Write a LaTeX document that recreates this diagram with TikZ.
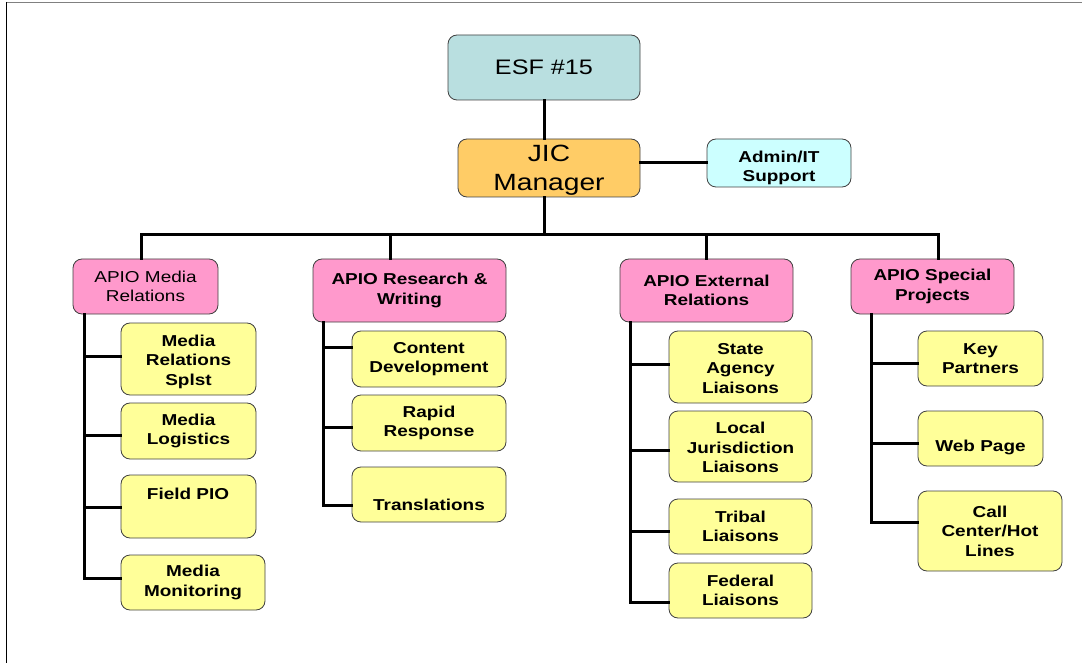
\documentclass[tikz,border=0pt]{standalone}
\usepackage{fontspec}
\setmainfont[FakeStretch=1.2]{Liberation Sans}
\newcommand{\dn}[2]{\raisebox{-#1}[\height][\depth]{\begin{tabular}{@{}c@{}}#2\end{tabular}}}
\begin{document}
\begin{tikzpicture}[x=1pt,y=-1pt,
  box/.style={draw=black!75, line width=0.8pt, rounded corners=9pt, align=center, inner sep=0pt},
  sub/.style={box, fill=yellowbox, font=\fontsize{15.8}{19.5}\selectfont\bfseries},
  apio/.style={box, fill=pinkbox, font=\fontsize{15.8}{19.5}\selectfont\bfseries},
  subtext/.style={font=\fontsize{15.8}{19.5}\selectfont\bfseries, anchor=base, inner sep=0pt},
  conn/.style={line width=3pt, line cap=rect}]
\definecolor{yellowbox}{HTML}{FFFF99}
\definecolor{pinkbox}{HTML}{FF99CC}
\definecolor{tealbox}{HTML}{B9DFE0}
\definecolor{orangebox}{HTML}{FFCC66}
\definecolor{cyanbox}{HTML}{CCFFFF}
\useasboundingbox (0,0) rectangle (1082,663);
% frame
\draw[gray, line width=1.5pt] (6,2.5) -- (1082,2.5);
\draw[black, line width=1.5pt] (6.5,2) -- (6.5,663);
% macro for box with corners
\newcommand{\bx}[6]{\node[#1, minimum width=#4-#2, minimum height=#5-#3] (#6) at ({(#2+#4)/2},{(#3+#5)/2})}
% top
\bx{box, fill=tealbox, font=\fontsize{21}{26}\selectfont}{448}{35}{640}{100}{esf} {ESF \#15};
\bx{box, fill=orangebox, font=\fontsize{23.5}{29}\selectfont}{458}{140}{640}{196}{jic} {\dn{2.5pt}{JIC\\Manager}};
\bx{box, fill=cyanbox, font=\fontsize{15.8}{18.5}\selectfont\bfseries}{707}{139}{851}{187}{admin} {\dn{5.5pt}{Admin/IT\\Support}};
% APIO
\bx{box, fill=pinkbox, font=\fontsize{15.8}{19.5}\selectfont}{73}{259}{218}{314}{a1} {APIO Media\\Relations};
\bx{apio}{313}{259}{506}{322}{a2} {APIO Research \&\\Writing};
\bx{apio}{620}{259}{793}{322}{a3} {APIO External\\Relations};
\bx{apio}{851}{259}{1014}{314}{a4} {APIO Special\\Projects};
% column 1
\bx{sub}{121}{323}{256}{395}{m1} {\dn{3pt}{Media\\Relations\\Splst}};
\bx{sub}{121}{403}{256}{459}{m2} {Media\\Logistics};
\bx{sub}{121}{475}{256}{538}{m3} {};
\node[subtext] (m3t) at (188,499) {Field PIO};
\bx{sub}{121}{555}{265}{610}{m4} {Media\\Monitoring};
% column 2
\bx{sub}{352}{331}{506}{387}{r1} {Content\\Development};
\bx{sub}{352}{395}{506}{451}{r2} {Rapid\\Response};
\bx{sub}{352}{467}{506}{522}{r3} {};
\node[subtext] (r3t) at (429,510) {Translations};
% column 3
\bx{sub}{669}{331}{812}{403}{e1} {\dn{3pt}{State\\Agency\\Liaisons}};
\bx{sub}{669}{411}{812}{482}{e2} {\dn{3pt}{Local\\Jurisdiction\\Liaisons}};
\bx{sub}{669}{499}{812}{554}{e3} {Tribal\\Liaisons};
\bx{sub}{669}{563}{812}{618}{e4} {Federal\\Liaisons};
% column 4
\bx{sub}{918}{331}{1043}{386}{s1} {Key\\Partners};
\bx{sub}{918}{411}{1043}{466}{s2} {};
\node[subtext] (s2t) at (980.5,451) {Web Page};
\bx{sub}{918}{491}{1062}{571}{s3} {Call\\Center/Hot\\Lines};
% connectors top
\draw[conn] (esf.south -| 544,0) -- (jic.north -| 544,0);
\draw[conn] (jic.east |- admin.west) -- (admin.west);
\coordinate (bus) at (544,235);
\draw[conn] (jic.south -| bus) -- (bus);
\draw[conn] (141,235) -- (938,235);
\draw[conn] (141,235) -- (a1.north -| 141,0);
\draw[conn] (390,235) -- (a2.north -| 390,0);
\draw[conn] (706,235) -- (a3.north -| 706,0);
\draw[conn] (938,235) -- (a4.north -| 938,0);
% column 1 connectors
\draw[conn] (a1.south -| 84,0) -- (84,578) -- (m4.west |- 0,578);
\foreach \n/\yy in {m1/356, m2/435, m3/507} \draw[conn] (84,\yy) -- (\n.west |- 0,\yy);
% column 2
\draw[conn] (a2.south -| 323,0) -- (323,505) -- (r3.west |- 0,505);
\foreach \n/\yy in {r1/347, r2/427} \draw[conn] (323,\yy) -- (\n.west |- 0,\yy);
% column 3
\draw[conn] (a3.south -| 630,0) -- (630,602) -- (e4.west |- 0,602);
\foreach \n/\yy in {e1/364, e2/450, e3/531} \draw[conn] (630,\yy) -- (\n.west |- 0,\yy);
% column 4
\draw[conn] (a4.south -| 871,0) -- (871,522) -- (s3.west |- 0,522);
\foreach \n/\yy in {s1/363, s2/443} \draw[conn] (871,\yy) -- (\n.west |- 0,\yy);
\end{tikzpicture}
\end{document}
